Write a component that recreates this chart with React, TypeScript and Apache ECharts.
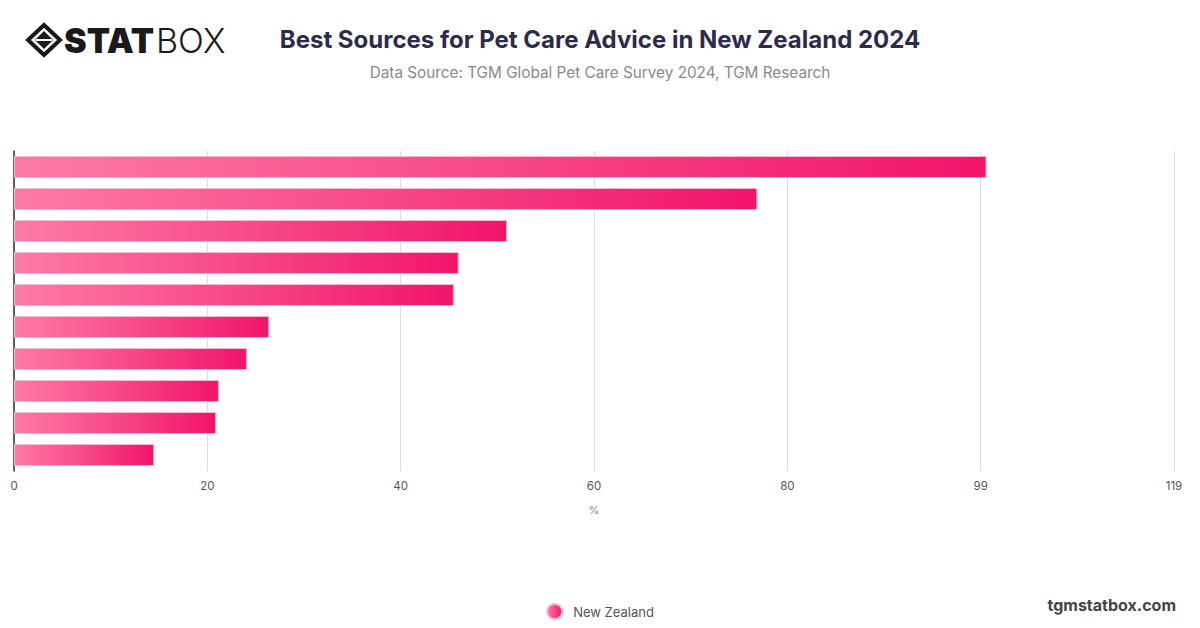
import React, { useEffect, useRef } from "react";
import * as echarts from "echarts";

const categories = [
  "Source 1", "Source 2", "Source 3", "Source 4", "Source 5",
  "Source 6", "Source 7", "Source 8", "Source 9", "Source 10",
];
const seriesName = "New Zealand";
const values = [100.6, 76.9, 51.0, 46.0, 45.5, 26.4, 24.1, 21.2, 20.9, 14.5];
const tickLabels: Record<number, string> = { 0: "0", 20: "20", 40: "40", 60: "60", 80: "80", 100: "99", 120: "119" };

const titleText = "Best Sources for Pet Care Advice in New Zealand 2024";
const subtitleText = "Data Source: TGM Global Pet Care Survey 2024, TGM Research";

export default function App() {
  const ref = useRef<HTMLDivElement>(null);
  useEffect(() => {
    if (!ref.current) return;
    const chart = echarts.init(ref.current, null, { renderer: "svg" });
    const barGradient = new echarts.graphic.LinearGradient(0, 0, 1, 0, [
      { offset: 0, color: "#fd7ba7" },
      { offset: 1, color: "#f2146a" },
    ]);
    const legendGradient = new echarts.graphic.LinearGradient(0, 0, 1, 0, [
      { offset: 0, color: "#fd7ba7" },
      { offset: 1, color: "#f2146a" },
    ]);
    chart.setOption({
      animation: false,
      backgroundColor: "#ffffff",
      title: [
        {
          text: titleText,
          left: "center",
          top: 22,
          textStyle: { fontFamily: "Inter", fontWeight: 700, fontSize: 24, color: "#2e2b4a" },
        },
        {
          text: subtitleText,
          left: "center",
          top: 60,
          textStyle: { fontFamily: "Inter", fontWeight: 400, fontSize: 15.3, color: "#8a8a8a" },
        },
      ],
      legend: {
        bottom: 3,
        left: "center",
        icon: "circle",
        itemWidth: 15,
        itemHeight: 15,
        itemGap: 10,
        textStyle: { fontFamily: "Inter", fontSize: 13, color: "#555", padding: [0, 0, 0, 6] },
        data: [{ name: seriesName, itemStyle: { color: legendGradient } }],
      },
      grid: { left: 14, right: 26, top: 151, bottom: 157, containLabel: false },
      xAxis: {
        type: "value",
        min: 0,
        max: 120,
        interval: 20,
        name: "%",
        nameLocation: "middle",
        nameGap: 33,
        nameTextStyle: { fontFamily: "Inter", fontSize: 11, color: "#888" },
        axisLine: { show: false },
        axisTick: { show: false },
        axisLabel: {
          margin: 9,
          fontFamily: "Inter",
          fontSize: 11.5,
          color: "#555",
          formatter: (v: number) => tickLabels[v] ?? String(v),
        },
        splitLine: { show: true, lineStyle: { color: "#dcdcdc", width: 1 } },
      },
      yAxis: {
        type: "category",
        inverse: true,
        data: categories,
        axisLine: { show: true, lineStyle: { color: "#333", width: 1.5 } },
        axisTick: { show: false },
        axisLabel: { show: false },
        splitLine: { show: false },
      },
      series: [
        {
          name: seriesName,
          type: "bar",
          data: values,
          barWidth: 22,
          itemStyle: { color: barGradient, borderColor: "#ffb6cf", borderWidth: 1 },
        },
      ],
      graphic: [
        {
          type: "polygon",
          shape: { points: [[44, 25], [60, 40], [44, 55], [28, 40]] },
          style: { fill: "none", stroke: "#1a1a1a", lineWidth: 4 },
        },
        {
          type: "polygon",
          shape: { points: [[44, 31], [53, 40], [44, 49], [35, 40]] },
          style: { fill: "#1a1a1a" },
        },
        {
          type: "line",
          shape: { x1: 36, y1: 40, x2: 52, y2: 40 },
          style: { stroke: "#ffffff", lineWidth: 2 },
        },
        {
          type: "text",
          x: 64,
          y: 40,
          style: {
            text: "STAT",
            fontFamily: "Inter",
            fontWeight: 900,
            fontSize: 34,
            fill: "#1a1a1a",
            verticalAlign: "middle",
          },
        },
        {
          type: "text",
          x: 156,
          y: 40,
          style: {
            text: "BOX",
            fontFamily: "Inter",
            fontWeight: 300,
            fontSize: 34,
            fill: "#1a1a1a",
            verticalAlign: "middle",
          },
        },
        {
          type: "text",
          right: 24,
          top: 597,
          style: {
            text: "tgmstatbox.com",
            fontFamily: "Inter",
            fontWeight: 700,
            fontSize: 16,
            fill: "#444",
          },
        },
      ],
    });
    return () => chart.dispose();
  }, []);
  return (
    <div
      ref={ref}
      style={{ position: "fixed", left: 0, top: 0, width: 1200, height: 628 }}
    />
  );
}
